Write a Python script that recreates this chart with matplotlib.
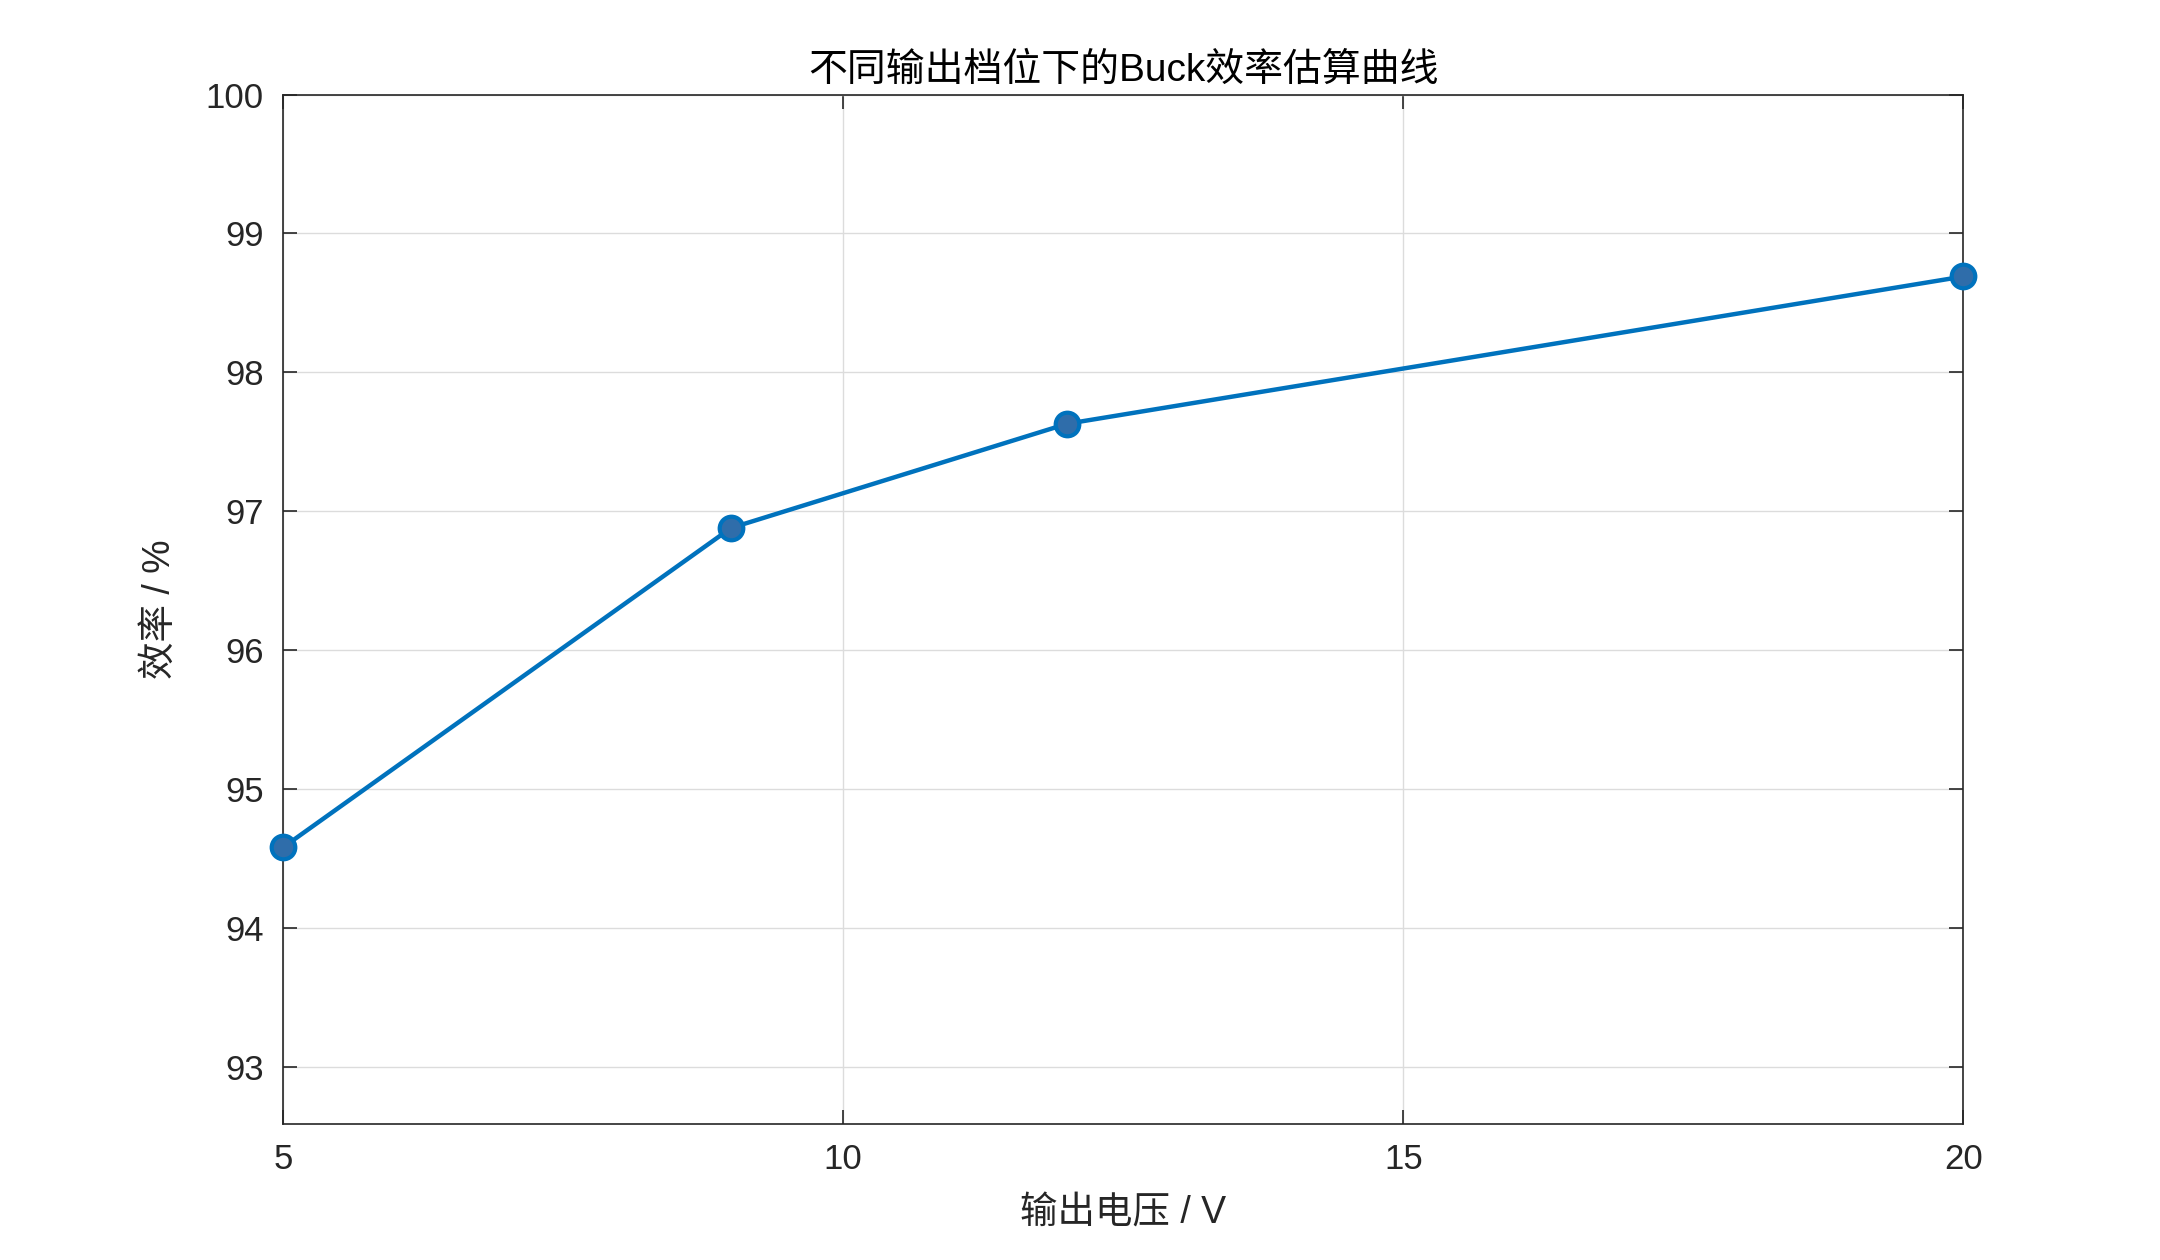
import matplotlib
matplotlib.use("Agg")
import matplotlib.pyplot as plt

voltage = [5, 9, 12, 20]
efficiency = [94.58, 96.88, 97.63, 98.69]
xticks = [5, 10, 15, 20]
yticks = [93, 94, 95, 96, 97, 98, 99, 100]

plt.rcParams['font.family'] = ['Liberation Sans', 'Noto Sans CJK SC', 'DejaVu Sans']
fig = plt.figure(figsize=(21.6, 12.6), dpi=100)
ax = fig.add_axes([0.131, 0.108, 0.778, 0.817])
ax.plot(voltage, efficiency, '-o', color='#0072BD', lw=3.2, ms=17,
        markerfacecolor='#2F6DAA', markeredgecolor='#0072BD', markeredgewidth=3, zorder=3, clip_on=False)
ax.set_xlim(5, 20)
ax.set_ylim(92.59, 100)
ax.set_xticks(xticks)
ax.set_yticks(yticks)
ax.grid(True, color='#dcdcdc', lw=1)
ax.tick_params(direction='in', top=True, right=True, length=10, width=1.2, labelsize=25, colors='#262626', pad=14)
for s in ax.spines.values():
    s.set_color('#262626'); s.set_linewidth(1.2)
ax.set_xlabel('输出电压 / V', fontsize=27, color='#262626', labelpad=14)
ax.set_ylabel('效率 / %', fontsize=27, color='#262626', labelpad=20)
ax.set_title('不同输出档位下的Buck效率估算曲线', fontsize=28, color='#000000', pad=10)
fig.savefig('out.png', dpi=100)
